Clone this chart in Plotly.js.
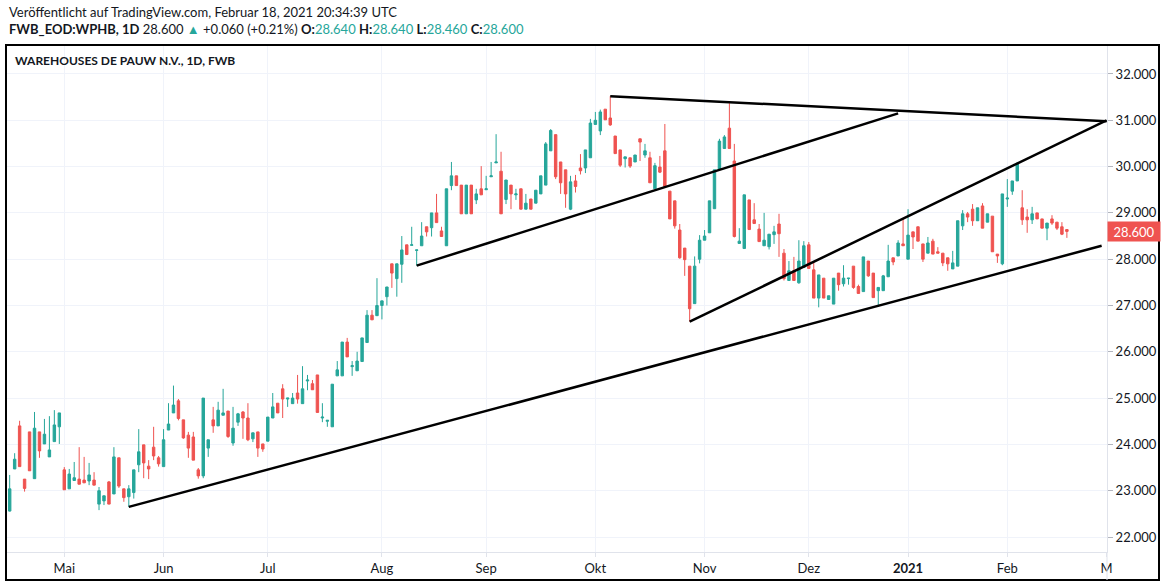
<!DOCTYPE html>
<html>
<head>
<meta charset="utf-8">
<script src="https://cdn.plot.ly/plotly-3.0.1.min.js"></script>
<style>
  html, body { margin: 0; padding: 0; background: #fff; }
  #chart { width: 1166px; height: 588px; }
</style>
</head>
<body>
<div id="chart"></div>
<script>
// WPHB daily candles, 16 Apr 2020 .. 17 Feb 2021
const firstDay = '2020-04-16';
const holidays = ['2020-05-01', '2020-06-01', '2020-12-24', '2020-12-25', '2020-12-31', '2021-01-01'];

const openVals = [
  22.56, 23.47, 24.40, 23.25, 24.27, 23.26, 24.27, 24.01, 23.73, 24.06,
  24.38, 23.45, 23.04, 23.22, 23.25, 23.23, 23.21, 23.23, 22.71, 22.78,
  23.19, 22.93, 23.71, 23.04, 22.87, 22.96, 23.56, 23.99, 23.53, 23.94,
  23.71, 23.52, 24.31, 24.68, 24.94, 24.53, 24.20, 24.16, 23.45, 23.32,
  23.92, 24.53, 24.40, 24.63, 24.72, 24.03, 24.48, 24.70, 24.57, 24.12,
  24.27, 24.01, 24.07, 24.57, 24.89, 25.20, 24.98, 24.88, 25.11, 24.88,
  25.37, 25.31, 25.50, 24.57, 24.50, 24.38, 25.48, 25.48, 26.21, 25.68,
  25.59, 25.79, 26.20, 26.79, 26.78, 27.00, 27.19, 27.90, 27.58, 27.89,
  28.31, 28.30, 28.19, 28.29, 28.70, 28.68, 29.00, 28.61, 28.29, 29.59,
  29.80, 29.60, 28.98, 29.60, 29.28, 29.52, 29.50, 29.78, 30.08, 29.90,
  29.29, 29.60, 29.39, 29.52, 29.08, 29.30, 29.21, 29.41, 29.60, 30.34,
  30.69, 30.10, 29.93, 29.08, 29.69, 29.97, 29.97, 30.19, 30.91, 30.77,
  31.24, 31.05, 30.66, 30.36, 30.17, 30.19, 30.10, 30.60, 30.25, 30.19,
  29.52, 29.99, 30.34, 29.47, 29.26, 28.63, 28.24, 27.85, 27.04, 28.00,
  28.41, 28.57, 29.09, 29.95, 30.39, 30.83, 30.12, 28.34, 28.23, 29.28,
  28.85, 28.65, 28.29, 28.27, 28.53, 28.76, 28.13, 27.54, 27.75, 27.49,
  27.82, 28.31, 27.77, 27.16, 27.59, 27.13, 27.03, 27.70, 27.47, 27.58,
  27.85, 27.41, 27.30, 27.96, 27.70, 27.32, 27.32, 27.62, 28.03, 28.07,
  28.33, 28.00, 28.59, 28.70, 28.33, 28.13, 28.39, 28.16, 28.13, 28.03,
  27.79, 27.85, 28.72, 28.98, 29.08, 28.83, 29.15, 28.80, 28.93, 28.11,
  27.90, 29.30, 29.47, 29.69, 29.11, 28.91, 28.85, 29.00, 28.87, 28.67,
  28.87, 28.80, 28.70, 28.64
];
const highVals = [
  23.34, 23.81, 24.51, 23.25, 24.27, 24.70, 24.27, 24.55, 24.61, 24.74,
  24.68, 23.51, 23.47, 23.62, 23.94, 23.73, 23.60, 23.40, 23.08, 22.89,
  23.21, 23.94, 23.71, 23.04, 23.12, 23.45, 24.33, 23.99, 23.66, 24.38,
  23.75, 24.33, 24.89, 25.27, 24.98, 24.53, 24.27, 24.27, 23.49, 25.00,
  24.10, 24.81, 24.92, 25.20, 24.72, 24.81, 24.68, 24.72, 24.89, 24.25,
  24.27, 24.01, 24.59, 25.11, 24.89, 25.30, 25.00, 25.11, 25.50, 25.69,
  25.50, 25.39, 25.50, 24.89, 24.52, 25.30, 25.80, 26.21, 26.30, 25.80,
  26.00, 26.30, 26.90, 26.90, 27.59, 27.10, 27.40, 27.90, 27.90, 28.50,
  28.31, 28.70, 28.20, 28.80, 28.70, 29.00, 29.41, 28.70, 29.52, 30.10,
  29.80, 29.60, 29.60, 29.60, 29.52, 30.01, 29.80, 30.10, 30.70, 30.32,
  29.71, 29.60, 29.52, 29.52, 29.41, 29.30, 29.49, 29.80, 30.53, 30.81,
  30.69, 30.10, 29.93, 29.80, 29.82, 30.27, 30.36, 31.03, 31.18, 31.23,
  31.24, 31.52, 30.66, 30.36, 30.21, 30.19, 30.25, 30.60, 30.49, 30.32,
  30.08, 30.23, 30.92, 29.47, 29.26, 28.76, 28.24, 27.85, 28.06, 28.52,
  28.63, 29.26, 29.93, 30.60, 30.68, 31.37, 30.49, 28.67, 29.39, 29.28,
  29.21, 28.76, 29.00, 28.54, 28.72, 28.98, 28.22, 27.96, 28.05, 28.41,
  28.39, 28.37, 27.96, 27.66, 27.59, 27.21, 27.59, 27.70, 27.87, 27.59,
  27.85, 27.45, 28.05, 27.96, 27.70, 27.39, 27.66, 28.31, 28.03, 28.41,
  28.89, 29.08, 28.59, 28.70, 28.33, 28.48, 28.44, 28.26, 28.13, 28.03,
  28.18, 28.83, 29.06, 29.02, 29.19, 29.11, 29.21, 28.98, 28.93, 28.11,
  29.41, 29.73, 29.69, 30.10, 29.49, 29.08, 29.13, 29.00, 28.87, 28.78,
  28.95, 28.80, 28.80, 28.64
];
const lowVals = [
  22.55, 23.47, 23.52, 22.98, 23.43, 23.26, 23.71, 24.01, 23.73, 24.06,
  24.01, 23.02, 23.04, 23.22, 23.14, 23.17, 23.12, 23.12, 22.58, 22.69,
  22.71, 22.93, 23.06, 22.76, 22.65, 22.83, 23.40, 23.27, 23.25, 23.66,
  23.52, 23.52, 24.31, 24.68, 24.52, 24.12, 23.71, 23.66, 23.26, 23.27,
  23.73, 24.25, 24.40, 24.63, 24.14, 23.97, 24.40, 24.12, 24.07, 24.05,
  23.73, 23.84, 24.07, 24.57, 24.68, 24.57, 24.81, 24.88, 24.88, 24.88,
  25.17, 25.18, 24.69, 24.48, 24.38, 24.38, 25.48, 25.48, 25.89, 25.48,
  25.59, 25.79, 26.20, 26.69, 26.78, 26.70, 27.00, 27.38, 27.19, 27.49,
  28.10, 28.30, 27.86, 28.29, 28.49, 28.49, 28.79, 28.49, 28.29, 29.49,
  29.59, 28.98, 28.98, 28.98, 29.19, 29.39, 29.50, 29.78, 30.08, 28.98,
  29.19, 29.08, 29.28, 29.08, 29.08, 29.08, 29.21, 29.41, 29.60, 30.34,
  29.73, 29.41, 29.11, 29.06, 29.44, 29.83, 29.86, 30.19, 30.91, 30.68,
  31.01, 30.88, 30.28, 29.99, 29.98, 29.97, 30.10, 30.12, 30.19, 29.65,
  29.52, 29.86, 29.57, 28.87, 28.66, 28.01, 27.64, 26.65, 27.04, 27.91,
  28.41, 28.57, 29.09, 29.95, 30.39, 30.39, 28.47, 28.34, 28.23, 28.64,
  28.77, 28.38, 28.29, 28.21, 28.33, 28.05, 27.54, 27.54, 27.54, 27.47,
  27.82, 27.80, 27.16, 26.96, 27.16, 27.13, 27.03, 27.32, 27.41, 27.45,
  27.36, 27.26, 27.30, 27.62, 27.17, 26.97, 27.32, 27.62, 27.87, 28.07,
  28.29, 28.00, 28.22, 28.39, 27.94, 28.13, 28.11, 28.13, 27.85, 27.75,
  27.79, 27.85, 28.63, 28.80, 28.72, 28.83, 28.67, 28.80, 28.16, 27.92,
  27.87, 29.13, 29.39, 29.69, 28.74, 28.57, 28.76, 28.87, 28.67, 28.41,
  28.74, 28.63, 28.52, 28.46
];
const closeVals = [
  23.04, 23.68, 23.52, 23.05, 23.43, 24.35, 23.86, 24.22, 23.88, 24.42,
  24.68, 23.02, 23.36, 23.28, 23.14, 23.17, 23.34, 23.12, 23.00, 22.89,
  22.71, 23.73, 23.10, 22.85, 23.04, 23.45, 23.84, 23.60, 23.47, 23.75,
  23.58, 24.10, 24.44, 24.85, 24.56, 24.14, 23.92, 23.66, 23.32, 25.00,
  24.10, 24.40, 24.74, 24.68, 24.17, 24.35, 24.66, 24.57, 24.10, 24.25,
  23.92, 23.90, 24.59, 24.81, 24.68, 24.98, 25.00, 25.00, 24.98, 25.20,
  25.39, 25.18, 24.69, 24.59, 24.52, 25.30, 25.61, 26.21, 25.89, 25.70,
  25.80, 26.30, 26.79, 26.69, 27.00, 27.10, 27.40, 27.70, 27.90, 28.20,
  28.10, 28.31, 28.20, 28.50, 28.59, 29.00, 28.79, 28.49, 29.52, 29.80,
  29.59, 28.98, 29.60, 28.98, 29.41, 29.39, 29.52, 29.80, 30.10, 28.98,
  29.71, 29.41, 29.41, 29.08, 29.21, 29.08, 29.49, 29.80, 30.49, 30.78,
  29.78, 29.65, 29.41, 29.67, 29.57, 29.91, 30.36, 30.94, 31.00, 31.18,
  31.01, 30.90, 30.28, 30.03, 30.21, 30.01, 30.25, 30.53, 30.34, 29.65,
  30.02, 29.88, 29.57, 28.87, 28.72, 28.03, 27.99, 26.93, 27.85, 28.41,
  28.50, 29.26, 29.93, 30.55, 30.64, 30.39, 28.49, 28.39, 29.39, 28.64,
  28.77, 28.38, 28.41, 28.54, 28.59, 28.55, 27.58, 27.75, 27.54, 27.96,
  28.29, 27.80, 27.16, 27.66, 27.16, 27.21, 27.59, 27.45, 27.59, 27.59,
  27.39, 27.26, 28.05, 27.64, 27.17, 27.39, 27.64, 27.96, 27.94, 28.35,
  28.29, 28.52, 28.48, 28.39, 28.00, 28.35, 28.11, 28.13, 27.92, 27.90,
  27.92, 28.83, 28.98, 28.91, 28.83, 29.11, 28.67, 28.98, 28.16, 28.07,
  29.41, 29.32, 29.69, 30.06, 28.85, 28.85, 28.98, 28.87, 28.67, 28.78,
  28.78, 28.67, 28.54, 28.60
];

// hand-drawn trend lines (start / end anchor of each)
const lineStartDates  = ['2020-05-21', '2020-08-12', '2020-10-06', '2020-10-28'];
const lineStartPrices = [22.65, 27.86, 31.52, 26.65];
const lineEndDates    = ['2021-02-26', '2020-12-29', '2021-03-01', '2021-03-01'];
const lineEndPrices   = [28.29, 31.15, 30.98, 31.00];

const monthTickDates  = ['2020-05-04', '2020-06-02', '2020-07-01', '2020-08-03', '2020-09-01',
                         '2020-10-01', '2020-11-02', '2020-12-01', '2021-01-04', '2021-02-01', '2021-03-01'];
const monthTickLabels = ['Mai', 'Jun', 'Jul', 'Aug', 'Sep', 'Okt', 'Nov', 'Dez', '<b>2021</b>', 'Feb', 'M'];

const UP = '#26a69a';
const DOWN = '#ef5350';
const TEXT = '#131722';

// trading days: weekdays minus exchange holidays
function tradingDays(start, n) {
    const out = [];
    const d = new Date(start + 'T00:00:00Z');
    while (out.length < n) {
        const iso = d.toISOString().slice(0, 10);
        const wd = d.getUTCDay();
        if (wd !== 0 && wd !== 6 && holidays.indexOf(iso) < 0) out.push(iso);
        d.setUTCDate(d.getUTCDate() + 1);
    }
    return out;
}
const dates = tradingDays(firstDay, closeVals.length);

const traces = [{
    type: 'candlestick',
    x: dates,
    open: openVals, high: highVals, low: lowVals, close: closeVals,
    increasing: { line: { color: UP, width: 1 }, fillcolor: UP },
    decreasing: { line: { color: DOWN, width: 1 }, fillcolor: DOWN },
    whiskerwidth: 0,
    hoverinfo: 'skip'
}];

for (let i = 0; i < lineStartDates.length; i++) {
    traces.push({
        type: 'scatter', mode: 'lines',
        x: [lineStartDates[i], lineEndDates[i]],
        y: [lineStartPrices[i], lineEndPrices[i]],
        line: { color: '#000000', width: 2.5 },
        hoverinfo: 'skip'
    });
}

// plot area: x 7..1107, y 45..552 (px)
const PW = 1100, PH = 507;
const last = closeVals[closeVals.length - 1];

const layout = {
    width: 1166, height: 588,
    margin: { l: 7, r: 59, t: 45, b: 36 },
    paper_bgcolor: '#ffffff',
    plot_bgcolor: '#ffffff',
    showlegend: false,
    font: { family: 'Lato, "Open Sans", sans-serif', size: 13, color: TEXT },
    xaxis: {
        type: 'date',
        range: ['2020-04-15 11:00', '2021-03-01 02:00'],
        rangebreaks: [{ bounds: ['sat', 'mon'] }, { values: holidays }],
        rangeslider: { visible: false },
        tickmode: 'array',
        tickvals: monthTickDates,
        ticktext: monthTickLabels,
        tickfont: { size: 13, color: TEXT },
        showgrid: true, gridcolor: '#f0f3fa', gridwidth: 1,
        showline: true, linecolor: '#e0e3eb', linewidth: 1,
        ticks: 'outside', ticklen: 4, tickcolor: '#e0e3eb',
        zeroline: false, fixedrange: true
    },
    yaxis: {
        side: 'right',
        range: [21.676, 32.626],
        tick0: 0, dtick: 1,
        tickformat: '.3f',
        tickfont: { size: 13, color: TEXT },
        showgrid: true, gridcolor: '#f0f3fa', gridwidth: 1,
        showline: true, linecolor: '#e0e3eb', linewidth: 1,
        ticks: 'outside', ticklen: 5, tickcolor: '#b2b5be',
        zeroline: false, fixedrange: true
    },
    shapes: [
        {
            type: 'rect', xref: 'paper', yref: 'paper',
            x0: -1 / PW, x1: 1152 / PW, y0: -28 / PH, y1: 1,
            line: { color: '#000000', width: 2 }
        },
        {
            type: 'line', xref: 'paper', yref: 'paper',
            x0: 1, x1: 1, y0: -28 / PH, y1: 0,
            line: { color: '#e0e3eb', width: 1 }
        }
    ],
    annotations: [
        {
            xref: 'paper', yref: 'paper', x: 0, y: 1 + 33 / PH,
            xanchor: 'left', yanchor: 'middle', showarrow: false,
            text: 'Veröffentlicht auf TradingView.com, Februar 18, 2021 20:34:39 UTC',
            font: { size: 13, color: TEXT }
        },
        {
            xref: 'paper', yref: 'paper', x: 0, y: 1 + 16 / PH,
            xanchor: 'left', yanchor: 'middle', showarrow: false,
            text: '<b>FWB_EOD:WPHB, 1D</b> 28.600 <span style="color:' + UP + '">▲</span> +0.060 (+0.21%) ' +
                  '<b>O:</b><span style="color:' + UP + '">28.640</span> ' +
                  '<b>H:</b><span style="color:' + UP + '">28.640</span> ' +
                  '<b>L:</b><span style="color:' + UP + '">28.460</span> ' +
                  '<b>C:</b><span style="color:' + UP + '">28.600</span>',
            font: { size: 13, color: TEXT }
        },
        {
            xref: 'paper', yref: 'paper', x: 6 / PW, y: 1 - 15 / PH,
            xanchor: 'left', yanchor: 'middle', showarrow: false,
            text: '<b>WAREHOUSES DE PAUW N.V., 1D, FWB</b>',
            font: { size: 12, color: TEXT }
        },
        {
            xref: 'paper', yref: 'y', x: 1, y: last,
            xanchor: 'left', yanchor: 'middle', showarrow: false,
            text: last.toFixed(3),
            bgcolor: DOWN, borderpad: 2,
            width: 48, height: 15,
            font: { size: 13, color: '#ffffff' }
        }
    ]
};

Plotly.newPlot('chart', traces, layout, { displayModeBar: false, staticPlot: true });
</script>
</body>
</html>
